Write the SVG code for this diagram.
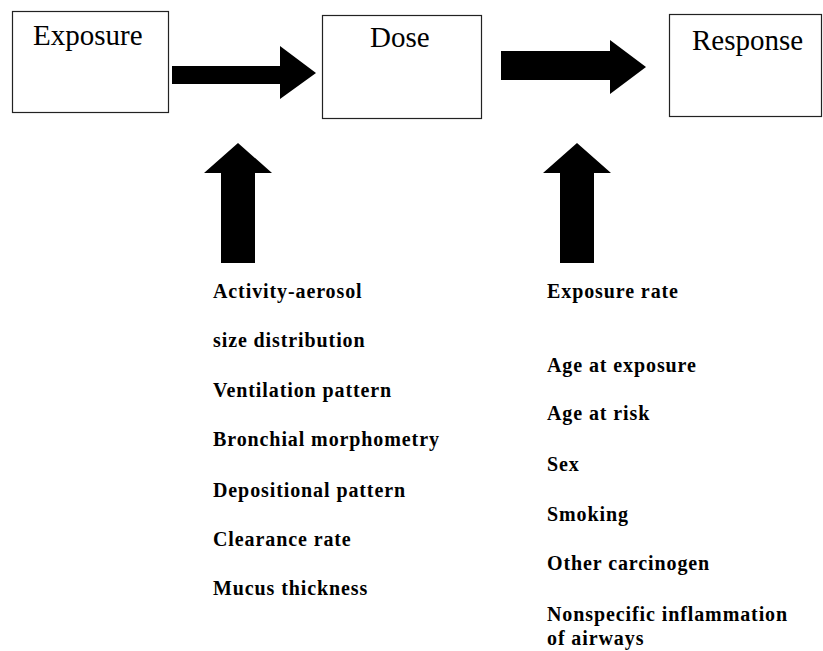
<svg xmlns="http://www.w3.org/2000/svg" width="823" height="651" viewBox="0 0 823 651">
<style>
.box{fill:#fff;stroke:#222;stroke-width:1.2}
.title{font-family:"Liberation Serif","Times New Roman",serif;font-size:29px;fill:#000}
.item{font-family:"Liberation Serif","Times New Roman",serif;font-size:20px;font-weight:bold;letter-spacing:0.9px;fill:#000}
.arrow{fill:#000}
</style>
<rect width="823" height="651" fill="#fff"/>
<g id="exposure">
<rect class="box" x="12.5" y="11.5" width="156" height="101"/>
<text class="title" x="33" y="45">Exposure</text>
</g>
<g id="dose">
<rect class="box" x="322.5" y="15.5" width="159" height="103"/>
<text class="title" x="370" y="47">Dose</text>
</g>
<g id="response">
<rect class="box" x="669.5" y="14.5" width="152" height="102"/>
<text class="title" x="692" y="50">Response</text>
</g>
<g id="connectors">
<polygon class="arrow" points="172,66 280,66 280,46 316,73 280,99 280,84 172,84"/>
<polygon class="arrow" points="501,51 610,51 610,40 646,67 610,94 610,80 501,80"/>
<polygon class="arrow" points="238,143 272,173 255,173 255,263 221,263 221,173 204,173"/>
<polygon class="arrow" points="577,143 611,173 594,173 594,263 560,263 560,173 543,173"/>
</g>
<g id="dose-factors">
<text class="item" x="213" y="298">Activity-aerosol</text>
<text class="item" x="213" y="347">size distribution</text>
<text class="item" x="213" y="397">Ventilation pattern</text>
<text class="item" x="213" y="446">Bronchial morphometry</text>
<text class="item" x="213" y="497">Depositional pattern</text>
<text class="item" x="213" y="546">Clearance rate</text>
<text class="item" x="213" y="595">Mucus thickness</text>
</g>
<g id="response-factors">
<text class="item" x="547" y="298">Exposure rate</text>
<text class="item" x="547" y="372">Age at exposure</text>
<text class="item" x="547" y="420">Age at risk</text>
<text class="item" x="547" y="471">Sex</text>
<text class="item" x="547" y="521">Smoking</text>
<text class="item" x="547" y="570">Other carcinogen</text>
<text class="item" x="547" y="621">Nonspecific inflammation</text>
<text class="item" x="547" y="645">of airways</text>
</g>
</svg>
